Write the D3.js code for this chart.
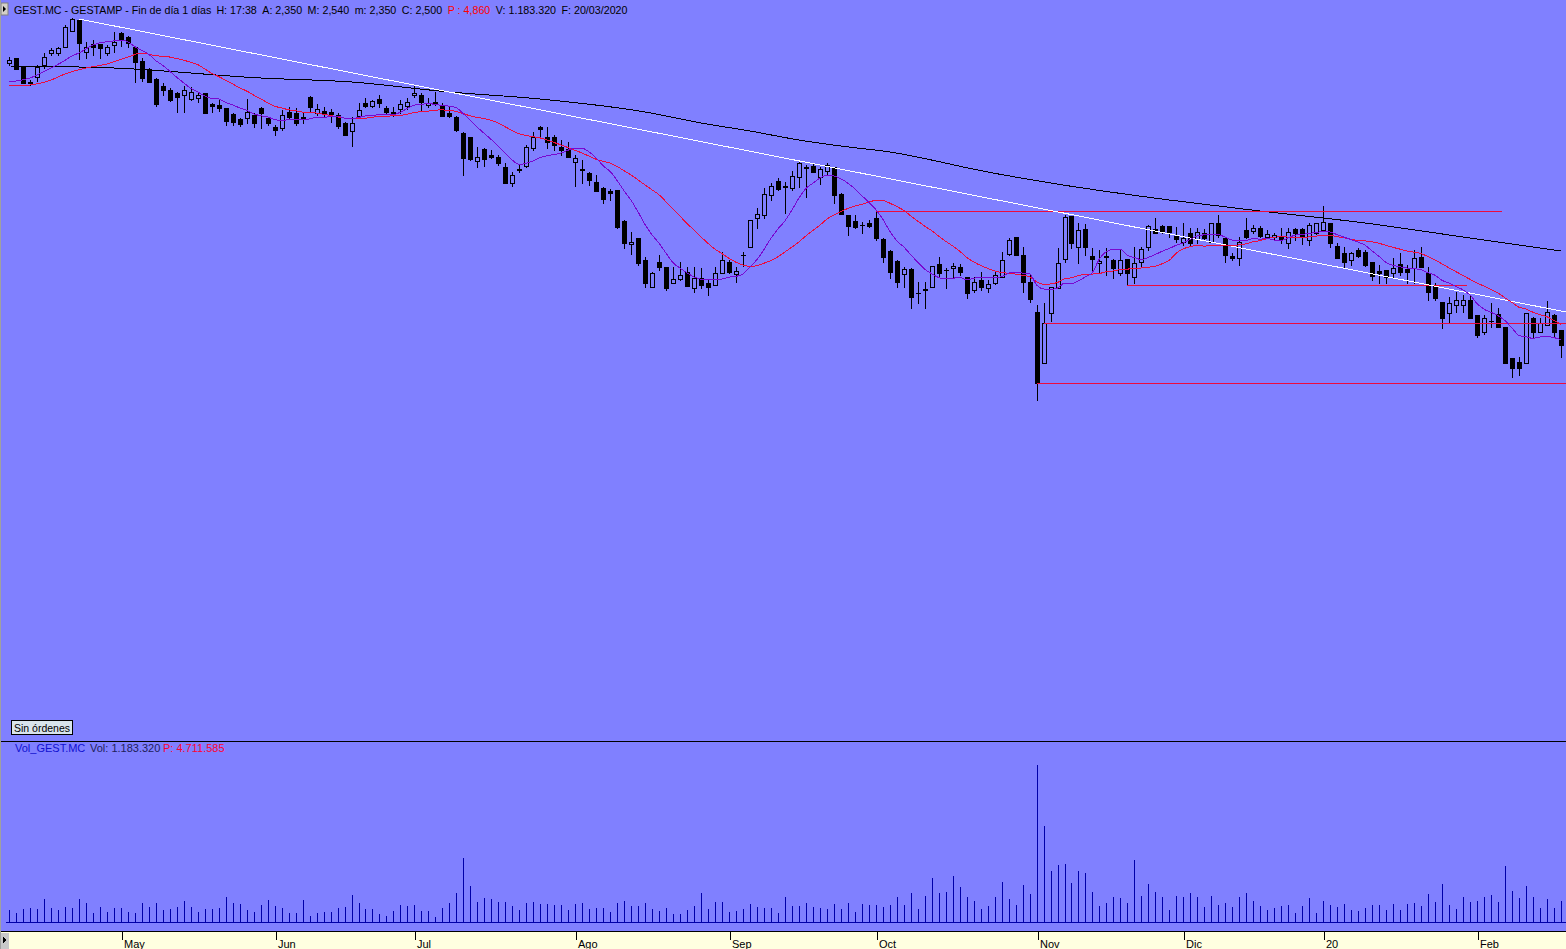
<!DOCTYPE html>
<html><head><meta charset="utf-8">
<script src="https://cdn.jsdelivr.net/npm/d3@7"></script>
<style>
html,body{margin:0;padding:0;background:#8080ff;overflow:hidden}
svg{display:block}
text{font-family:"Liberation Sans",Arial,sans-serif;font-size:11px}
</style></head><body>
<svg id="c" width="1566" height="949"></svg>
<script>
// ---- DATA (daily candles, index 0 = first visible session) ----
const opens = [5.685,5.710,5.670,5.590,5.615,5.675,5.735,5.735,5.765,5.845,
5.900,5.740,5.780,5.780,5.735,5.775,5.835,5.815,5.765,5.695,
5.655,5.605,5.570,5.550,5.535,5.525,5.505,5.510,5.535,5.480,
5.475,5.460,5.430,5.405,5.410,5.425,5.460,5.410,5.365,5.360,
5.440,5.435,5.415,5.515,5.435,5.445,5.440,5.425,5.385,5.345,
5.420,5.485,5.470,5.505,5.460,5.440,5.455,5.470,5.525,5.525,
5.475,5.490,5.475,5.435,5.415,5.335,5.315,5.195,5.255,5.225,
5.215,5.165,5.085,5.150,5.170,5.260,5.365,5.315,5.315,5.265,
5.255,5.190,5.155,5.135,5.090,5.060,5.045,5.050,4.895,4.780,
4.810,4.700,4.565,4.690,4.665,4.585,4.605,4.640,4.560,4.610,
4.585,4.575,4.635,4.690,4.630,4.725,4.765,4.910,4.925,5.025,
5.095,5.070,5.060,5.115,5.165,5.170,5.115,5.145,5.165,5.030,
4.925,4.895,4.875,4.885,4.910,4.805,4.745,4.695,4.630,4.655,
4.535,4.550,4.565,4.680,4.650,4.660,4.665,4.615,4.550,4.600,
4.560,4.585,4.615,4.730,4.815,4.725,4.590,4.440,4.185,4.435,
4.560,4.705,4.920,4.765,4.855,4.720,4.685,4.720,4.700,4.635,
4.705,4.615,4.690,4.765,4.855,4.870,4.870,4.820,4.790,4.835,
4.805,4.835,4.790,4.885,4.810,4.720,4.710,4.850,4.845,4.860,
4.815,4.815,4.815,4.785,4.855,4.855,4.800,4.835,4.850,4.885,
4.770,4.735,4.700,4.750,4.740,4.690,4.645,4.650,4.635,4.680,
4.655,4.660,4.715,4.635,4.575,4.490,4.435,4.475,4.475,4.500,
4.425,4.340,4.395,4.430,4.365,4.210,4.190,4.185,4.410,4.340,
4.375,4.425,4.350];
const highs = [5.715,5.710,5.670,5.600,5.675,5.735,5.760,5.765,5.875,5.910,
5.905,5.790,5.800,5.780,5.775,5.840,5.840,5.820,5.770,5.710,
5.660,5.610,5.585,5.560,5.540,5.570,5.565,5.535,5.535,5.485,
5.505,5.460,5.435,5.410,5.505,5.435,5.465,5.415,5.375,5.450,
5.465,5.460,5.440,5.520,5.480,5.465,5.455,5.435,5.390,5.415,
5.485,5.510,5.500,5.525,5.470,5.465,5.500,5.510,5.575,5.535,
5.510,5.540,5.485,5.465,5.420,5.340,5.315,5.265,5.260,5.250,
5.225,5.185,5.140,5.175,5.275,5.340,5.370,5.365,5.325,5.300,
5.290,5.225,5.200,5.140,5.125,5.065,5.055,5.050,4.900,4.840,
4.810,4.715,4.640,4.725,4.665,4.665,4.690,4.665,4.665,4.660,
4.600,4.665,4.740,4.700,4.665,4.740,4.900,4.960,5.060,5.085,
5.110,5.090,5.145,5.190,5.175,5.180,5.165,5.185,5.165,5.035,
4.925,4.925,4.890,4.900,4.940,4.810,4.750,4.700,4.665,4.660,
4.590,4.590,4.670,4.715,4.660,4.685,4.680,4.615,4.615,4.640,
4.600,4.640,4.740,4.810,4.815,4.765,4.625,4.475,4.485,4.565,
4.760,4.925,4.920,4.885,4.880,4.760,4.750,4.760,4.705,4.750,
4.705,4.765,4.765,4.875,4.910,4.875,4.870,4.865,4.885,4.860,
4.860,4.855,4.885,4.925,4.810,4.735,4.815,4.910,4.875,4.870,
4.850,4.835,4.860,4.860,4.860,4.860,4.885,4.885,4.970,4.885,
4.785,4.765,4.740,4.760,4.750,4.690,4.675,4.650,4.710,4.735,
4.675,4.750,4.765,4.665,4.585,4.490,4.515,4.540,4.525,4.525,
4.425,4.425,4.485,4.460,4.365,4.210,4.215,4.435,4.415,4.410,
4.495,4.430,4.350];
const lows = [5.675,5.655,5.585,5.575,5.595,5.660,5.725,5.725,5.765,5.845,
5.705,5.710,5.725,5.710,5.725,5.740,5.770,5.765,5.590,5.595,
5.590,5.470,5.525,5.495,5.440,5.440,5.500,5.490,5.435,5.440,
5.445,5.375,5.375,5.370,5.385,5.365,5.360,5.375,5.325,5.350,
5.410,5.375,5.385,5.440,5.425,5.415,5.390,5.360,5.325,5.270,
5.415,5.465,5.465,5.465,5.435,5.420,5.435,5.455,5.515,5.450,
5.465,5.475,5.420,5.415,5.345,5.125,5.200,5.165,5.170,5.210,
5.175,5.085,5.070,5.140,5.165,5.250,5.310,5.260,5.250,5.225,
5.215,5.070,5.085,5.075,5.045,4.985,5.000,4.860,4.760,4.730,
4.675,4.565,4.565,4.650,4.550,4.585,4.600,4.570,4.540,4.560,
4.525,4.575,4.635,4.635,4.590,4.670,4.765,4.860,4.910,5.000,
5.050,4.935,5.050,5.065,5.015,5.140,5.080,5.125,4.985,4.930,
4.825,4.860,4.835,4.865,4.800,4.690,4.610,4.565,4.565,4.460,
4.485,4.460,4.565,4.615,4.560,4.615,4.625,4.510,4.540,4.550,
4.540,4.580,4.615,4.725,4.725,4.540,4.490,4.000,4.185,4.395,
4.560,4.690,4.760,4.685,4.725,4.640,4.640,4.625,4.610,4.625,
4.575,4.585,4.665,4.750,4.835,4.835,4.815,4.790,4.775,4.775,
4.785,4.800,4.790,4.815,4.690,4.700,4.675,4.810,4.835,4.815,
4.810,4.805,4.785,4.760,4.800,4.780,4.775,4.830,4.850,4.765,
4.710,4.665,4.675,4.715,4.670,4.600,4.585,4.585,4.615,4.625,
4.585,4.585,4.665,4.500,4.500,4.360,4.385,4.440,4.440,4.410,
4.315,4.330,4.365,4.365,4.185,4.115,4.125,4.185,4.315,4.340,
4.375,4.315,4.215];
const closes = [5.700,5.655,5.585,5.585,5.665,5.715,5.750,5.760,5.865,5.905,
5.785,5.765,5.765,5.760,5.765,5.790,5.800,5.785,5.690,5.610,
5.590,5.480,5.550,5.500,5.515,5.550,5.540,5.525,5.435,5.470,
5.460,5.395,5.390,5.380,5.440,5.385,5.435,5.385,5.350,5.425,
5.415,5.385,5.405,5.465,5.455,5.430,5.430,5.370,5.325,5.385,
5.450,5.470,5.495,5.485,5.440,5.425,5.480,5.490,5.535,5.490,
5.485,5.480,5.420,5.420,5.350,5.210,5.205,5.215,5.205,5.215,
5.185,5.085,5.125,5.155,5.265,5.315,5.355,5.290,5.275,5.250,
5.215,5.210,5.150,5.100,5.045,5.005,5.035,4.865,4.785,4.790,
4.685,4.585,4.635,4.665,4.560,4.605,4.625,4.570,4.610,4.575,
4.565,4.635,4.700,4.640,4.645,4.725,4.900,4.930,5.030,5.070,
5.055,5.065,5.120,5.185,5.160,5.140,5.155,5.175,5.025,4.930,
4.870,4.865,4.875,4.870,4.810,4.715,4.640,4.590,4.655,4.515,
4.535,4.555,4.670,4.635,4.650,4.670,4.640,4.535,4.590,4.565,
4.580,4.625,4.700,4.800,4.725,4.590,4.505,4.085,4.385,4.565,
4.685,4.915,4.785,4.850,4.765,4.705,4.695,4.715,4.660,4.700,
4.635,4.685,4.755,4.870,4.835,4.840,4.840,4.805,4.810,4.785,
4.840,4.810,4.885,4.825,4.725,4.710,4.790,4.815,4.860,4.820,
4.830,4.825,4.805,4.840,4.835,4.815,4.875,4.885,4.890,4.785,
4.710,4.690,4.735,4.720,4.675,4.620,4.635,4.615,4.660,4.640,
4.640,4.710,4.665,4.540,4.510,4.410,4.485,4.500,4.500,4.410,
4.325,4.410,4.395,4.365,4.185,4.160,4.160,4.435,4.340,4.385,
4.440,4.340,4.275];
// volume in thousands of shares
const volumes = [600,465,650,700,650,1150,700,600,750,700,
1150,950,450,750,500,700,700,500,450,950,
750,950,600,650,750,1050,750,500,650,650,
700,1250,950,900,600,500,850,1100,800,700,
450,450,1100,300,450,500,500,700,750,1350,
950,650,650,400,300,550,850,800,850,550,
550,250,700,950,1450,3200,1800,1000,1200,1150,
1000,1000,800,600,950,1000,900,900,850,850,
600,900,950,650,700,700,500,950,1050,800,
800,950,650,550,700,400,400,600,800,1450,
650,1000,1000,500,550,650,900,750,700,700,
450,1250,800,800,950,750,700,650,900,650,
950,500,900,850,850,750,850,1250,850,1450,
650,1300,2200,1450,1500,2300,1750,1250,1050,650,
800,1250,2000,1150,850,1850,1400,7850,4800,2550,
2850,2900,1950,2550,2450,1500,800,950,1250,1200,
950,3100,1300,1900,1500,1250,600,1300,1250,1450,
1250,750,1300,850,950,750,1250,1450,1050,800,
600,700,800,850,450,800,1200,450,1050,850,
750,900,600,550,700,850,850,600,900,600,
900,950,800,1400,1000,1900,850,650,1250,1000,
1050,1250,1350,1000,2800,1550,1200,1800,1250,700,
1150,700,1050];
// month ticks (session index of the first session of each month)
const monthTickIdx = [16,38,58,81,103,124,147,168,188,210];
const monthLabels = ["May","Jun","Jul","Ago","Sep","Oct","Nov","Dic","20","Feb"];
// long moving average (needs history before the window)
const maLongIdx = [0,15,36,49,63,76,91,99,106,113,119,126,140,149,166,179,194,208,222];
const maLongVal = [5.670,5.660,5.610,5.590,5.540,5.505,5.440,5.385,5.345,5.300,5.270,5.240,5.140,5.085,5.000,4.945,4.885,4.815,4.745];
// warm-up part of the short averages (read, before their windows are full)
const maRedHeadIdx = [0,3,6,8,11,14,17];
const maRedHeadVal = [5.570,5.575,5.600,5.630,5.660,5.680,5.715];
const maPurpleHeadIdx = [0,3,6];
const maPurpleHeadVal = [5.590,5.610,5.660];
const maRedPeriod = 20, maPurplePeriod = 9;
// drawn trendline (two anchor points) and horizontal levels
const trendIdx = [10,222];
const trendVal = [5.905,4.445];
const levelVal = [4.945,4.575,4.385,4.085];
const levelFrom = [124,160,148,147];
const levelTo = [213.6,208.6,224,224];
// header texts
const headerTexts = ["GEST.MC - GESTAMP - Fin de día 1 días","H: 17:38","A: 2,350","M: 2,540","m: 2,350","C: 2,500","P : 4,860","V: 1.183.320","F: 20/03/2020"];
const headerColors = ["#000","#000","#000","#000","#000","#000","#ff0000","#000","#000"];

// ---- DRAW ----
const W = 1566, H = 949;
const svg = d3.select('#c');
const N = closes.length;
const x = d3.scaleLinear().domain([0, N-1]).range([9, 1560.8]);
const y = d3.scaleLinear().domain([2.325, 6.0]).range([735, 0]);
const yv = d3.scaleLinear().domain([0, 8000]).range([922, 762]);
const cx = i => Math.round(x(i));
const RED = '#ec0c3c', PURPLE = '#7808d0';

svg.append('rect').attr('width',W).attr('height',H).attr('fill','#8080ff');

const defs = svg.append('defs');
defs.append('clipPath').attr('id','pclip').append('rect').attr('x',0).attr('y',0).attr('width',W).attr('height',740);
const price = svg.append('g').attr('clip-path','url(#pclip)');

// candles
const cg = price.append('g').attr('shape-rendering','crispEdges');
d3.range(N).forEach(i=>{
  const o=opens[i], c=closes[i];
  const xc = cx(i);
  cg.append('line').attr('x1',xc+0.5).attr('x2',xc+0.5)
    .attr('y1',Math.round(y(highs[i]))).attr('y2',Math.round(y(lows[i]))+1)
    .attr('stroke','#000');
  const top = Math.round(y(Math.max(o,c))), bot = Math.round(y(Math.min(o,c)));
  if (bot - top < 1) {
    cg.append('rect').attr('x',xc-2).attr('y',top).attr('width',5).attr('height',1).attr('fill','#000');
  } else if (c < o) {
    cg.append('rect').attr('x',xc-2).attr('y',top).attr('width',5).attr('height',bot-top+1).attr('fill','#000');
  } else {
    cg.append('rect').attr('x',xc-1.5).attr('y',top+0.5).attr('width',4).attr('height',bot-top)
      .attr('fill','#8080ff').attr('stroke','#000').attr('stroke-width',1);
  }
});

// long MA
const lineGen = d3.line().x(d=>x(d[0])).y(d=>y(d[1])).curve(d3.curveMonotoneX);
price.append('path').attr('d', lineGen(maLongIdx.map((v,k)=>[v, maLongVal[k]])))
  .attr('fill','none').attr('stroke','#000').attr('stroke-width',1).attr('shape-rendering','crispEdges');

// horizontal levels
const lvl = price.append('g').attr('shape-rendering','crispEdges');
levelVal.forEach((v,k)=>{
  lvl.append('line').attr('x1',Math.round(x(levelFrom[k]))).attr('x2',Math.round(x(levelTo[k])))
    .attr('y1',Math.round(y(v))+0.5).attr('y2',Math.round(y(v))+0.5)
    .attr('stroke',RED).attr('stroke-width',1);
});

// trendline extended to right edge
{
  const x1=x(trendIdx[0]), y1=y(trendVal[0]), x2=x(trendIdx[1]), y2=y(trendVal[1]);
  const s=(y2-y1)/(x2-x1);
  price.append('line').attr('x1',x1).attr('y1',y1).attr('x2',W).attr('y2',y1+s*(W-x1))
    .attr('stroke','#ffffff').attr('stroke-width',1).attr('shape-rendering','crispEdges');
}

// moving averages computed from closes
function sma(n){
  const out=[];
  for(let i=n-1;i<N;i++) out.push([i, d3.mean(closes.slice(i-n+1,i+1))]);
  return out;
}
const redPts = maRedHeadIdx.map((v,k)=>[v,maRedHeadVal[k]]).concat(sma(maRedPeriod));
const purPts = maPurpleHeadIdx.map((v,k)=>[v,maPurpleHeadVal[k]]).concat(sma(maPurplePeriod).filter(d=>d[0]>6));
const lg2 = d3.line().x(d=>x(d[0])).y(d=>y(d[1])).curve(d3.curveMonotoneX);
price.append('path').attr('d',lg2(redPts)).attr('fill','none').attr('stroke',RED).attr('stroke-width',1).attr('shape-rendering','crispEdges');
price.append('path').attr('d',lg2(purPts)).attr('fill','none').attr('stroke',PURPLE).attr('stroke-width',1).attr('shape-rendering','crispEdges');

// header
const hdr = svg.append('g');
hdr.append('rect').attr('x',1).attr('y',3).attr('width',7).attr('height',12).attr('fill','#d4d0c8').attr('stroke','#808080');
hdr.append('path').attr('d','M3,6 L6,9 L3,12 Z').attr('fill','#000');
let hx = 14;
headerTexts.forEach((t,k)=>{
  const el = hdr.append('text').attr('x',hx).attr('y',14).attr('fill',headerColors[k])
    .style('font-size','10.7px').text(t);
  hx += el.node().getComputedTextLength() + (k===0 ? 5 : 5.5);
});

// Sin órdenes button
svg.append('rect').attr('x',11.5).attr('y',720.5).attr('width',61).attr('height',14)
  .attr('fill','#d8e4ec').attr('stroke','#000');
svg.append('text').attr('x',14).attr('y',731.5).attr('fill','#000')
  .attr('textLength',56).attr('lengthAdjust','spacingAndGlyphs').text('Sin órdenes');

// panel separator
svg.append('line').attr('x1',0).attr('x2',W).attr('y1',741.5).attr('y2',741.5).attr('stroke','#000');

// volume header
svg.append('text').attr('x',15).attr('y',752).attr('fill','#1010d0').text('Vol_GEST.MC');
svg.append('text').attr('x',90).attr('y',752).attr('fill','#20205a').text('Vol: 1.183.320');
svg.append('text').attr('x',163).attr('y',752).attr('fill','#ff0030').text('P: 4.711.585');

// volume bars
const vg = svg.append('g').attr('shape-rendering','crispEdges');
vg.append('line').attr('x1',6).attr('x2',W).attr('y1',yv(0)+0.5).attr('y2',yv(0)+0.5).attr('stroke','#0000a8');
volumes.forEach((v,i)=>{
  vg.append('line').attr('x1',cx(i)+0.5).attr('x2',cx(i)+0.5)
    .attr('y1',yv(0)).attr('y2',Math.round(yv(v))).attr('stroke','#0000a8');
});

// x axis
const ax = svg.append('g').attr('shape-rendering','crispEdges');
ax.append('rect').attr('x',0).attr('y',932).attr('width',W).attr('height',17).attr('fill','#ffffe0');
ax.append('line').attr('x1',0).attr('x2',W).attr('y1',931.5).attr('y2',931.5).attr('stroke','#000');
ax.append('rect').attr('x',0).attr('y',933).attr('width',9).attr('height',16).attr('fill','#c8c8c8');
ax.append('path').attr('d','M3,937 L6,940 L3,943 Z').attr('fill','#000');
monthTickIdx.forEach((ti,k)=>{
  const tx = cx(ti)+1;
  ax.append('line').attr('x1',tx+0.5).attr('x2',tx+0.5).attr('y1',932).attr('y2',940).attr('stroke','#000');
  ax.append('text').attr('x',tx+2).attr('y',948).attr('fill','#000').text(monthLabels[k]);
});
svg.append('line').attr('x1',0.5).attr('x2',0.5).attr('y1',0).attr('y2',H).attr('stroke','#a0a0a0');
</script>
</body></html>
